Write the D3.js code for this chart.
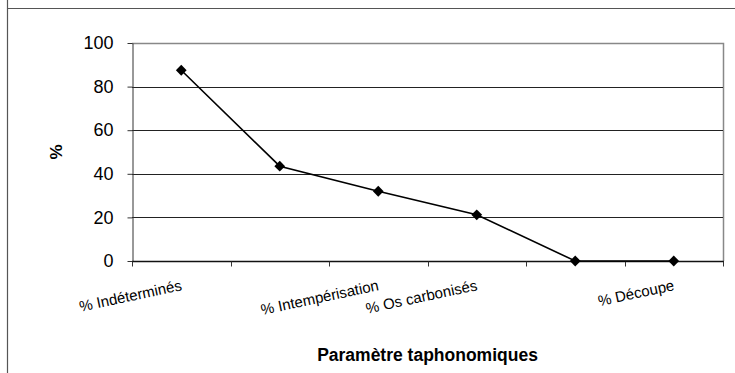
<!DOCTYPE html>
<html>
<head>
<meta charset="utf-8">
<script src="https://cdn.jsdelivr.net/npm/d3@7"></script>
<style>
  html, body { margin: 0; padding: 0; background: #fff; }
  svg { display: block; font-family: "Liberation Sans", Arial, sans-serif; }
</style>
</head>
<body>
<svg id="chart" width="735" height="373"></svg>
<script>
// Taphonomic parameters (percent of remains)
const categories = ["% Indéterminés", "", "% Intempérisation", "% Os carbonisés", "", "% Découpe"];
const values = [87.5, 43.5, 32, 21.2, 0, 0];
const yTicks = [0, 20, 40, 60, 80, 100];
const yTitle = "%";
const xTitle = "Paramètre taphonomiques";

const svg = d3.select("#chart");
const W = 735, H = 373;
const plot = { left: 132, right: 723, top: 43, bottom: 261 };

// Chart frame
svg.append("line").attr("x1", 7.5).attr("x2", 7.5).attr("y1", 0).attr("y2", H)
  .attr("stroke", "#555").attr("stroke-width", 1.2);
svg.append("line").attr("x1", 7).attr("x2", W).attr("y1", 8.5).attr("y2", 8.5)
  .attr("stroke", "#555").attr("stroke-width", 1.2);

const x = d3.scaleBand().domain(d3.range(categories.length))
  .range([plot.left, plot.right]).paddingInner(0).paddingOuter(0);
const y = d3.scaleLinear().domain([0, 100]).range([plot.bottom, plot.top]);

// Plot area border (top and right)
svg.append("path")
  .attr("d", `M${plot.left},${plot.top + 0.5}H${plot.right + 0.5}V${plot.bottom}`)
  .attr("fill", "none").attr("stroke", "#888").attr("stroke-width", 1.5);

// Horizontal gridlines
svg.append("g").selectAll("line")
  .data(yTicks.filter(t => t > 0 && t < 100))
  .join("line")
  .attr("x1", plot.left).attr("x2", plot.right)
  .attr("y1", d => Math.round(y(d)) + 0.5).attr("y2", d => Math.round(y(d)) + 0.5)
  .attr("stroke", "#222").attr("stroke-width", 1);

// Y axis
const yAxis = svg.append("g")
  .attr("transform", `translate(${plot.left + 0.5},0)`)
  .call(d3.axisLeft(y).tickValues(yTicks).tickSize(5).tickPadding(14).tickSizeOuter(0));
yAxis.select(".domain").attr("stroke", "#333");
yAxis.selectAll(".tick line").attr("stroke", "#333");
yAxis.selectAll(".tick text").attr("font-size", 18).attr("fill", "#000")
  .attr("font-family", "Liberation Sans, Arial, sans-serif");

// X axis: tick marks at category boundaries
const xAxis = svg.append("g").attr("transform", `translate(0,${plot.bottom + 0.5})`);
xAxis.append("line").attr("x1", plot.left).attr("x2", plot.right + 1)
  .attr("stroke", "#111").attr("stroke-width", 1.3);
const bounds = d3.range(categories.length + 1).map(i => i < categories.length ? x(i) : x(i - 1) + x.bandwidth());
xAxis.selectAll("line.tk").data(bounds).join("line").attr("class", "tk")
  .attr("x1", d => Math.round(d) + 0.5).attr("x2", d => Math.round(d) + 0.5)
  .attr("y1", 0).attr("y2", 5).attr("stroke", "#333");

// Rotated category labels, right end anchored under each category centre
xAxis.selectAll("text.lbl").data(categories.map((c, i) => ({ c, i })).filter(d => d.c))
  .join("text").attr("class", "lbl")
  .attr("transform", d => `translate(${x(d.i) + x.bandwidth() / 2 - 1},${18}) rotate(-12)`)
  .attr("text-anchor", "end")
  .attr("dy", "0.72em")
  .attr("font-size", 15)
  .attr("fill", "#000")
  .text(d => d.c);

// Series line and diamond markers
const pts = values.map((v, i) => [x(i) + x.bandwidth() / 2, y(v)]);
svg.append("path").datum(pts)
  .attr("d", d3.line())
  .attr("fill", "none").attr("stroke", "#000").attr("stroke-width", 1.6);
svg.append("g").selectAll("path").data(pts).join("path")
  .attr("transform", d => `translate(${d[0]},${d[1]}) rotate(45)`)
  .attr("d", d3.symbol().type(d3.symbolSquare).size(58))
  .attr("fill", "#000");

// Axis titles
svg.append("text")
  .attr("transform", `translate(62,${(plot.top + plot.bottom) / 2}) rotate(-90)`)
  .attr("text-anchor", "middle")
  .attr("font-size", 17).attr("font-weight", "bold").text(yTitle);
svg.append("text")
  .attr("x", (plot.left + plot.right) / 2).attr("y", 361)
  .attr("text-anchor", "middle")
  .attr("font-size", 17.5).attr("font-weight", "bold").text(xTitle);
</script>
</body>
</html>
